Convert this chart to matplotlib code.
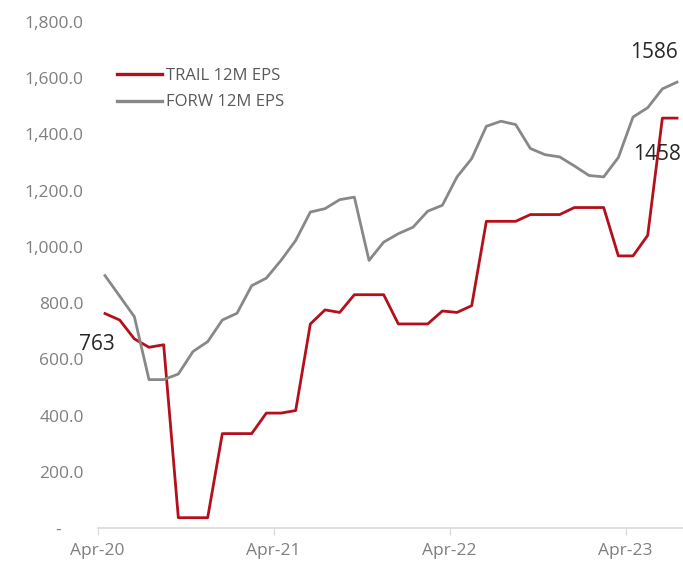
"""
Trailing vs forward 12M EPS, monthly Apr-20 .. Jul-23
"""
import matplotlib
matplotlib.use("Agg")
import matplotlib.pyplot as plt
from matplotlib.ticker import FuncFormatter

plt.rcParams['font.family'] = ['Open Sans', 'DejaVu Sans']

# monthly points, starting Apr-20
trail_eps = [763, 740, 673, 643, 652, 37, 37, 37, 336, 336,
             336, 409, 409, 418, 726, 776, 767, 830, 830, 830,
             726, 726, 726, 772, 767, 791, 1091, 1091, 1091, 1115,
             1115, 1115, 1140, 1140, 1140, 968, 968, 1041, 1458, 1458]
forw_eps = [898, 825, 752, 528, 528, 548, 628, 663, 740, 764,
            862, 889, 952, 1023, 1124, 1136, 1168, 1177, 952, 1017,
            1047, 1070, 1127, 1148, 1249, 1314, 1429, 1447, 1435, 1350,
            1328, 1320, 1288, 1254, 1249, 1318, 1462, 1495, 1562, 1586]
year_ticks = ['Apr-20', 'Apr-21', 'Apr-22', 'Apr-23']
y_ticks = [0, 200, 400, 600, 800, 1000, 1200, 1400, 1600, 1800]

RED = '#B3101B'
GRAY = '#888888'
TXT = '#7F7F7F'

n = len(trail_eps)
x = [i + 0.5 for i in range(n)]  # points sit in the middle of each month slot

fig = plt.figure(figsize=(6.83, 5.63), dpi=100)
ax = fig.add_axes([0.143, 0.062, 0.859, 0.899])

ax.plot(x, trail_eps, color=RED, lw=2.0, label='TRAIL 12M EPS')
ax.plot(x, forw_eps, color=GRAY, lw=2.0, label='FORW 12M EPS')

ax.set_xlim(0, 40)
ax.set_ylim(0, 1800)

ax.set_xticks([12 * i for i in range(len(year_ticks))])
ax.set_xticklabels(year_ticks)
ax.set_yticks(y_ticks)
ax.yaxis.set_major_formatter(FuncFormatter(lambda v, p: '-     ' if v == 0 else f'{v:,.1f}'))

for s in ['top', 'right', 'left']:
    ax.spines[s].set_visible(False)
ax.spines['bottom'].set_color('#D9D9D9')
ax.spines['bottom'].set_linewidth(1.2)
ax.tick_params(axis='y', length=0, pad=10, labelsize=12.5, labelcolor=TXT)
ax.tick_params(axis='x', length=5, color='#D9D9D9', pad=6, labelsize=12.5, labelcolor=TXT)

# data labels
ax.annotate(f'{trail_eps[0]:.0f}', xy=(x[0], trail_eps[0]), xytext=(-6, -22),
            textcoords='offset points', ha='center', va='center', fontsize=15, color='#262626')
ax.annotate(f'{forw_eps[-1]:.0f}', xy=(x[-1], forw_eps[-1]), xytext=(-16.5, 21),
            textcoords='offset points', ha='center', va='center', fontsize=15, color='#262626')
ax.annotate(f'{trail_eps[-1]:.0f}', xy=(x[-1], trail_eps[-1]), xytext=(-14.5, -26),
            textcoords='offset points', ha='center', va='center', fontsize=15, color='#262626')

leg = ax.legend(loc='upper left', bbox_to_anchor=(0.033, 0.91), frameon=False,
                fontsize=12, handlelength=2.7, handletextpad=0.25, labelspacing=0.65,
                borderpad=0, borderaxespad=0)
for t in leg.get_texts():
    t.set_color('#595959')
for h in leg.get_lines():
    h.set_linewidth(2.4)

fig.savefig('out.png', dpi=100)
